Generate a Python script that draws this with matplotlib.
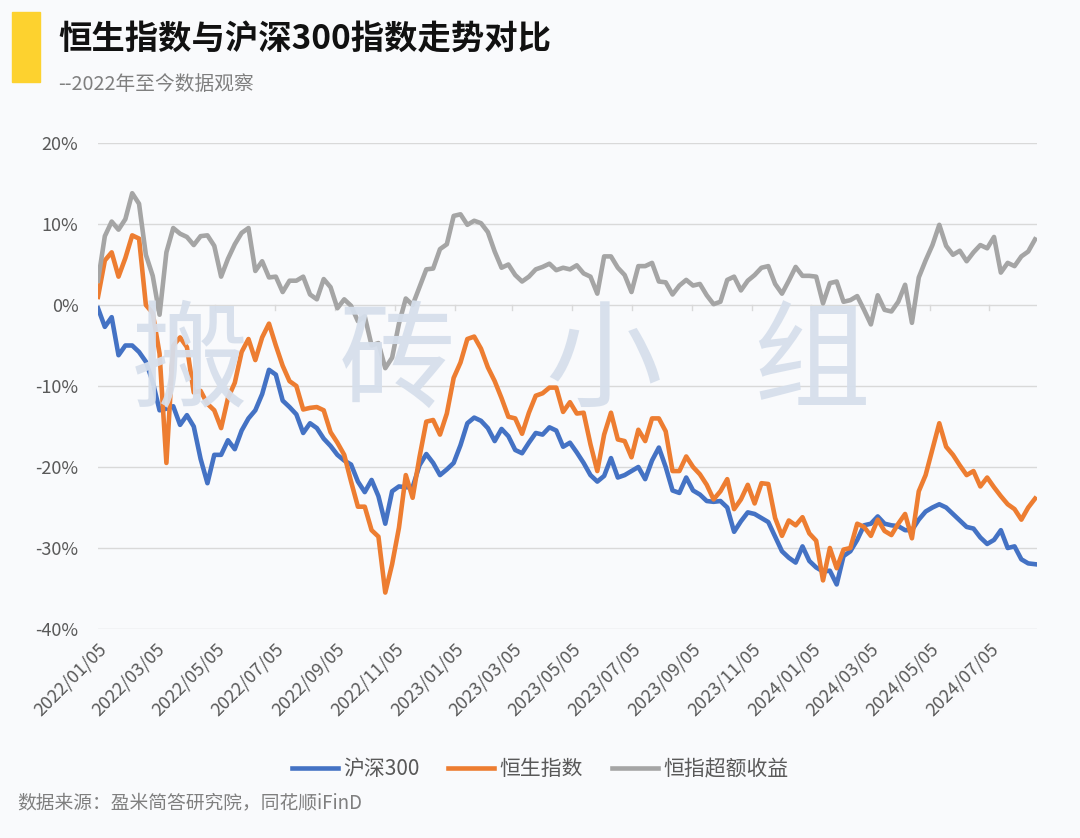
import matplotlib
matplotlib.use("Agg")
import matplotlib.pyplot as plt
import matplotlib.dates as mdates
from matplotlib.patches import Rectangle
import pandas as pd

plt.rcParams['font.family'] = ['Noto Sans CJK SC', 'DejaVu Sans']

# weekly readings, 2022-01-05 onwards (values in %)
dates = pd.date_range('2022-01-05', periods=138, freq='7D')

hs300 = [-0.4, -2.7, -1.5, -6.2, -5.0, -5.0, -5.8, -7.0, -9.5, -13.0,
         -12.8, -12.5, -14.8, -13.6, -15.0, -19.0, -22.0, -18.5, -18.5, -16.7,
         -17.8, -15.5, -14.0, -13.0, -11.0, -8.0, -8.6, -11.8, -12.6, -13.5,
         -15.8, -14.6, -15.2, -16.5, -17.4, -18.5, -19.2, -19.7, -21.8, -23.1,
         -21.6, -23.6, -27.0, -23.0, -22.4, -22.5, -22.5, -19.8, -18.4, -19.5,
         -21.0, -20.3, -19.5, -17.3, -14.6, -13.9, -14.3, -15.2, -16.8, -15.3,
         -16.2, -17.9, -18.3, -17.0, -15.8, -16.0, -15.1, -15.5, -17.5, -17.0,
         -18.2, -19.5, -21.0, -21.8, -21.1, -18.9, -21.3, -21.0, -20.5, -20.0,
         -21.5, -19.2, -17.6, -20.0, -22.9, -23.2, -21.3, -22.9, -23.4, -24.2,
         -24.3, -24.2, -25.0, -28.0, -26.7, -25.6, -25.8, -26.3, -26.8, -28.6,
         -30.4, -31.2, -31.8, -29.8, -31.6, -32.4, -32.9, -32.8, -34.5, -31.0,
         -30.4, -29.0, -27.2, -27.0, -26.1, -27.0, -27.2, -27.3, -27.8, -27.8,
         -26.5, -25.5, -25.0, -24.6, -25.0, -25.8, -26.6, -27.4, -27.6, -28.7,
         -29.5, -29.0, -27.8, -30.0, -29.8, -31.4, -31.9, -32.0]

hsi = [1.0, 5.5, 6.5, 3.5, 5.8, 8.6, 8.2, 0.0, -1.0, -6.0,
       -19.5, -5.0, -4.0, -5.2, -10.8, -10.6, -12.2, -13.0, -15.2, -11.5,
       -9.6, -5.8, -4.2, -6.8, -4.0, -2.3, -5.0, -7.5, -9.4, -10.0,
       -12.9, -12.7, -12.6, -13.0, -15.7, -17.0, -18.5, -21.8, -24.9, -24.9,
       -27.8, -28.6, -35.5, -32.0, -27.5, -21.0, -23.8, -18.8, -14.4, -14.2,
       -16.0, -13.4, -9.0, -7.1, -4.2, -3.9, -5.4, -7.7, -9.4, -11.5,
       -13.8, -14.0, -15.9, -13.3, -11.2, -10.9, -10.2, -10.2, -13.2, -12.0,
       -13.4, -13.3, -17.2, -20.5, -16.0, -13.3, -16.6, -16.8, -18.8, -15.4,
       -16.8, -14.0, -14.0, -15.6, -20.5, -20.5, -18.7, -20.0, -20.9, -22.2,
       -24.0, -23.0, -21.5, -25.2, -24.0, -22.2, -24.5, -22.0, -22.1, -26.3,
       -28.5, -26.6, -27.2, -26.2, -28.2, -29.1, -34.0, -30.0, -32.5, -30.2,
       -30.0, -27.0, -27.4, -28.5, -26.5, -27.9, -28.4, -27.0, -25.8, -28.8,
       -23.0, -21.0, -17.8, -14.6, -17.5, -18.5, -19.8, -21.0, -20.5, -22.4,
       -21.3, -22.5, -23.6, -24.6, -25.2, -26.5, -25.0, -23.9]

excess = [3.0, 8.5, 10.3, 9.3, 10.6, 13.8, 12.5, 6.2, 3.6, -1.2,
          6.5, 9.5, 8.8, 8.4, 7.4, 8.5, 8.6, 7.3, 3.5, 5.7,
          7.5, 8.9, 9.5, 4.2, 5.4, 3.4, 3.5, 1.6, 3.0, 3.0,
          3.5, 1.3, 0.7, 3.2, 2.2, -0.4, 0.7, -0.1, -2.0, -1.4,
          -5.0, -4.7, -7.8, -6.5, -2.3, 0.8, 0.0, 2.2, 4.4, 4.5,
          6.9, 7.5, 11.0, 11.2, 9.9, 10.4, 10.1, 9.0, 6.6, 4.6,
          5.0, 3.7, 2.9, 3.5, 4.4, 4.7, 5.1, 4.3, 4.6, 4.4,
          4.9, 3.9, 3.5, 1.4, 6.0, 6.0, 4.6, 3.7, 1.6, 4.8,
          4.8, 5.2, 2.9, 2.8, 1.3, 2.4, 3.1, 2.4, 2.6, 1.2,
          0.1, 0.4, 3.1, 3.5, 1.8, 3.0, 3.7, 4.6, 4.8, 2.6,
          1.4, 3.0, 4.7, 3.6, 3.6, 3.5, 0.2, 2.7, 2.9, 0.4,
          0.6, 1.1, -0.6, -2.4, 1.2, -0.6, -0.8, 0.4, 2.5, -2.2,
          3.4, 5.5, 7.4, 9.9, 7.3, 6.2, 6.7, 5.4, 6.5, 7.4,
          7.0, 8.4, 4.0, 5.2, 4.8, 6.0, 6.6, 8.1]

names = ['沪深300', '恒生指数', '恒指超额收益']
colors = ['#4472C4', '#ED7D31', '#A5A5A5']
watermark = ['搬', '砖', '小', '组']

bg = '#F9FAFC'
fig = plt.figure(figsize=(10.8, 8.38), dpi=100, facecolor=bg)
ax = fig.add_axes([98/1080, 1-629/838, (1037-98)/1080, (629-143)/838])
ax.set_facecolor(bg)

for vals, name, c in zip([hs300, hsi, excess], names, colors):
    ax.plot(dates, vals, color=c, lw=3.3, label=name, solid_joinstyle='round')

ax.set_ylim(-40, 20)
ax.set_yticks(range(-40, 21, 10))
ax.yaxis.set_major_formatter(plt.FuncFormatter(lambda v, p: f'{v:.0f}%'))
ax.set_xlim(dates[0], dates[-1] + pd.Timedelta(days=2))
ax.xaxis.set_major_locator(mdates.MonthLocator(bymonth=[1, 3, 5, 7, 9, 11], bymonthday=5))
ax.xaxis.set_major_formatter(mdates.DateFormatter('%Y/%m/%d'))
ax.grid(axis='y', color='#D9D9D9', lw=1)
ax.set_axisbelow(True)
for s in ax.spines.values():
    s.set_visible(False)
ax.tick_params(axis='both', length=0, colors='#595959', labelsize=13)
ax.tick_params(axis='y', pad=14)
ax.tick_params(axis='x', pad=8)
plt.setp(ax.get_xticklabels(), rotation=45, ha='right', rotation_mode='anchor')

# small tick marks on the zero line
for t in ax.get_xticks():
    ax.plot([t, t], [0, -0.6], color='#D9D9D9', lw=1, zorder=1)

# watermark
for i, ch in enumerate(watermark):
    fig.text((190 + 207*i)/1080, 1-365/838, ch, fontsize=84, color='#D6DFEC',
             fontweight='medium', alpha=0.94, ha='center', va='center', zorder=10)

# header
fig.add_artist(Rectangle((12/1080, 1-82/838), 28/1080, 70/838,
                         transform=fig.transFigure, color='#FDD22F'))
fig.text(58/1080, 1-40/838, '恒生指数与沪深300指数走势对比', fontsize=24,
         fontweight='bold', color='#111111', va='center')
fig.text(58/1080, 1-84/838, '--2022年至今数据观察', fontsize=14.2,
         color='#7F7F7F', va='center')

fig.legend(loc='center', bbox_to_anchor=(0.5, 1-769/838), ncol=3, frameon=False,
           fontsize=15, handlelength=2.2, columnspacing=1.4, handletextpad=0.25,
           labelcolor='#595959')
fig.text(17/1080, 1-803/838, '数据来源：盈米简答研究院，同花顺iFinD', fontsize=13.5,
         color='#7F7F7F', va='center')

fig.savefig('out.png', dpi=100, facecolor=bg)
